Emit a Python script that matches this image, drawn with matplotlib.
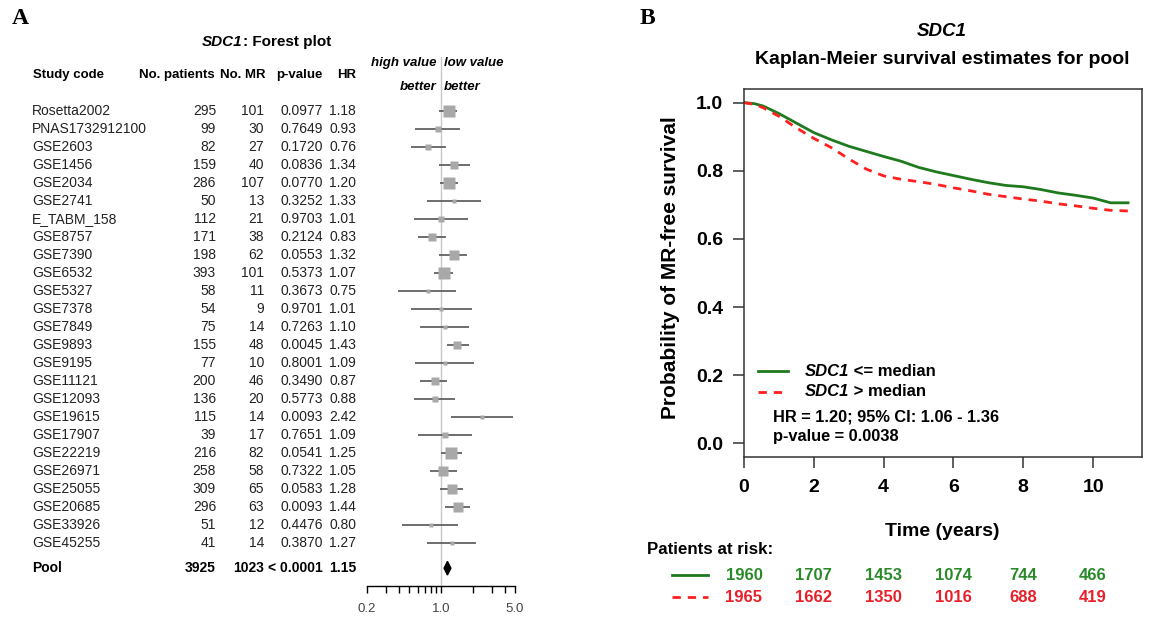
import numpy as np
import matplotlib.pyplot as plt
from matplotlib.lines import Line2D
from matplotlib.ticker import NullFormatter
import matplotlib.transforms as mtransforms

plt.rcParams['font.family'] = ['Liberation Sans', 'DejaVu Sans']

# ---- forest plot data ----
studies = ['Rosetta2002', 'PNAS1732912100', 'GSE2603', 'GSE1456', 'GSE2034', 'GSE2741',
           'E_TABM_158', 'GSE8757', 'GSE7390', 'GSE6532', 'GSE5327', 'GSE7378', 'GSE7849',
           'GSE9893', 'GSE9195', 'GSE11121', 'GSE12093', 'GSE19615', 'GSE17907', 'GSE22219',
           'GSE26971', 'GSE25055', 'GSE20685', 'GSE33926', 'GSE45255']
n_patients = [295, 99, 82, 159, 286, 50, 112, 171, 198, 393, 58, 54, 75, 155, 77, 200, 136,
              115, 39, 216, 258, 309, 296, 51, 41]
n_mr = [101, 30, 27, 40, 107, 13, 21, 38, 62, 101, 11, 9, 14, 48, 10, 46, 20, 14, 17, 82,
        58, 65, 63, 12, 14]
p_values = ['0.0977', '0.7649', '0.1720', '0.0836', '0.0770', '0.3252', '0.9703', '0.2124',
            '0.0553', '0.5373', '0.3673', '0.9701', '0.7263', '0.0045', '0.8001', '0.3490',
            '0.5773', '0.0093', '0.7651', '0.0541', '0.7322', '0.0583', '0.0093', '0.4476',
            '0.3870']
hr = [1.18, 0.93, 0.76, 1.34, 1.20, 1.33, 1.01, 0.83, 1.32, 1.07, 0.75, 1.01, 1.10, 1.43,
      1.09, 0.87, 0.88, 2.42, 1.09, 1.25, 1.05, 1.28, 1.44, 0.80, 1.27]
ci_lo = [0.96, 0.57, 0.52, 0.95, 0.98, 0.74, 0.55, 0.61, 0.96, 0.85, 0.39, 0.52, 0.63, 1.13,
         0.57, 0.64, 0.55, 1.23, 0.61, 0.99, 0.78, 0.98, 1.09, 0.43, 0.73]
ci_hi = [1.43, 1.51, 1.11, 1.88, 1.46, 2.37, 1.81, 1.11, 1.77, 1.31, 1.39, 1.95, 1.84, 1.85,
         2.05, 1.15, 1.36, 4.75, 1.95, 1.57, 1.41, 1.62, 1.88, 1.44, 2.14]
pool_stats = ['Pool', '3925', '1023', '< 0.0001', '1.15']
pool_hr, pool_lo, pool_hi = 1.15, 1.07, 1.24
forest_ticks = [0.2, 1.0, 5.0]
forest_ticklabels = ['0.2', '1.0', '5.0']
forest_minor = [0.3, 0.4, 0.5, 0.6, 0.7, 0.8, 0.9, 2, 3, 4]

# ---- Kaplan-Meier data ----
km_time = [0, 0.3, 0.55, 1.0, 1.5, 2.0, 2.5, 3.0, 3.5, 4.0, 4.5, 5.0, 5.5, 6.0, 6.5, 7.0,
           7.5, 8.0, 8.5, 9.0, 9.5, 10.0, 10.5, 11.0]
km_low = [1.0, 0.997, 0.99, 0.968, 0.94, 0.912, 0.891, 0.872, 0.857, 0.842, 0.828, 0.810,
          0.797, 0.786, 0.775, 0.765, 0.757, 0.753, 0.745, 0.735, 0.728, 0.720, 0.706, 0.706]
km_high = [1.0, 0.995, 0.985, 0.96, 0.926, 0.895, 0.868, 0.835, 0.805, 0.785, 0.775, 0.768,
           0.760, 0.750, 0.741, 0.731, 0.724, 0.717, 0.711, 0.703, 0.697, 0.690, 0.684, 0.682]
risk_times = [0, 2, 4, 6, 8, 10]
risk_low = [1960, 1707, 1453, 1074, 744, 466]
risk_high = [1965, 1662, 1350, 1016, 688, 419]

green = '#1f7a1f'
green_txt = '#2a8a2a'
red = '#ff2020'
red_txt = '#e8202a'

W, H = 1159, 618
fig = plt.figure(figsize=(W / 100, H / 100), dpi=100)


def fx(px):
    return px / W


def fy(py):
    return 1 - py / H


# panel letters
fig.text(fx(12), fy(18), 'A', family='Liberation Serif', weight='bold', size=17, va='center')
fig.text(fx(640), fy(18), 'B', family='Liberation Serif', weight='bold', size=17, va='center')

# ================= forest plot =================
ax_f = fig.add_axes([fx(367), fy(586), fx(515) - fx(367), (586 - 57) / H])
ax_f.set_xscale('log')
ax_f.set_xlim(0.2, 5.0)
ax_f.set_ylim(26.39, -3)
for s in ['top', 'left', 'right']:
    ax_f.spines[s].set_visible(False)
ax_f.spines['bottom'].set_linewidth(1.0)
ax_f.set_yticks([])
ax_f.set_xticks(forest_ticks, labels=forest_ticklabels)
ax_f.set_xticks(forest_minor, minor=True)
ax_f.xaxis.set_minor_formatter(NullFormatter())
ax_f.tick_params(axis='x', which='both', direction='out', length=5, width=1,
                 labelsize=9.5, labelcolor='#444444', pad=7)
ax_f.axvline(1.0, color='#c8c8c8', lw=1, zorder=0)

rows = np.arange(len(studies))
ax_f.hlines(rows, ci_lo, ci_hi, color='#555555', lw=1.2, zorder=2)
for r, h, m in zip(rows, hr, n_mr):
    ax_f.plot(h, r, marker='s', ms=0.9 * np.sqrt(m), color='#a8a8a8', mec='none', zorder=3)

pool_row = 25.4
ax_f.fill([pool_lo, pool_hr, pool_hi, pool_hr],
          [pool_row, pool_row - 0.38, pool_row, pool_row + 0.38], color='black', zorder=3)

tr = mtransforms.blended_transform_factory(fig.transFigure, ax_f.transData)
fs = 10
for r in rows:
    ax_f.text(fx(32), r, studies[r], transform=tr, ha='left', va='center', size=fs, color='#222222')
    ax_f.text(fx(216), r, str(n_patients[r]), transform=tr, ha='right', va='center', size=fs, color='#222222')
    ax_f.text(fx(264), r, str(n_mr[r]), transform=tr, ha='right', va='center', size=fs, color='#222222')
    ax_f.text(fx(323), r, p_values[r], transform=tr, ha='right', va='center', size=fs, color='#222222')
    ax_f.text(fx(356), r, f'{hr[r]:.2f}', transform=tr, ha='right', va='center', size=fs, color='#222222')

pool_x = [32, 216, 264, 323, 356]
for i, (xp, s) in enumerate(zip(pool_x, pool_stats)):
    ax_f.text(fx(xp), pool_row, s, transform=tr, ha='left' if i == 0 else 'right',
              va='center', size=fs, weight='bold')

# header
hy = fy(75)
hs = 9.5
fig.text(fx(33), hy, 'Study code', ha='left', va='center', size=hs, weight='bold')
fig.text(fx(215), hy, 'No. patients', ha='right', va='center', size=hs, weight='bold')
fig.text(fx(265), hy, 'No. MR', ha='right', va='center', size=hs, weight='bold')
fig.text(fx(323), hy, 'p-value', ha='right', va='center', size=hs, weight='bold')
fig.text(fx(356), hy, 'HR', ha='right', va='center', size=hs, weight='bold')
fig.text(fx(437), fy(63), 'high value', ha='right', va='center', size=9.5, weight='bold', style='italic')
fig.text(fx(437), fy(87), 'better', ha='right', va='center', size=9.5, weight='bold', style='italic')
fig.text(fx(444), fy(63), 'low value', ha='left', va='center', size=9.5, weight='bold', style='italic')
fig.text(fx(444), fy(87), 'better', ha='left', va='center', size=9.5, weight='bold', style='italic')

# title
t_a = fig.text(fx(202), fy(42), 'SDC1', ha='left', va='center', size=11, weight='bold', style='italic')
ax_f.annotate(': Forest plot', xy=(1, 0.5), xycoords=t_a, ha='left', va='center',
              size=11, weight='bold', annotation_clip=False)

# ================= Kaplan-Meier =================
ax_k = fig.add_axes([fx(744), fy(457), fx(1142) - fx(744), (457 - 89) / H])
ax_k.plot(km_time, km_low, color=green, lw=2.0)
ax_k.plot(km_time, km_high, color=red, lw=2.0, dashes=(3, 2.5))
ax_k.set_xlim(0, 11.4)
ax_k.set_ylim(-0.04, 1.04)
ax_k.set_xticks(risk_times, labels=[str(t) for t in risk_times])
ax_k.set_yticks([0, 0.2, 0.4, 0.6, 0.8, 1.0], labels=['0.0', '0.2', '0.4', '0.6', '0.8', '1.0'])
ax_k.tick_params(axis='both', direction='out', length=8, width=1.1, labelsize=14, color='#333333')
ax_k.tick_params(axis='x', pad=8)
ax_k.tick_params(axis='y', pad=7)
for lab in ax_k.get_xticklabels() + ax_k.get_yticklabels():
    lab.set_fontweight('bold')
for s in ax_k.spines.values():
    s.set_linewidth(1.1)
    s.set_color('#333333')

fig.text(fx(670), fy(268), 'Probability of MR-free survival', rotation=90, ha='center',
         va='center', size=15, weight='bold')
fig.text(fx(942), fy(532), 'Time (years)', ha='center', va='center', size=14, weight='bold')
fig.text(fx(942), fy(31), 'SDC1', ha='center', va='center', size=13.5, weight='bold', style='italic')
fig.text(fx(942), fy(60), 'Kaplan-Meier survival estimates for pool', ha='center', va='center',
         size=14, weight='bold')

# legend inside plot
fig.add_artist(Line2D([fx(758), fx(788)], [fy(371), fy(371)], color=green, lw=2.0))
fig.add_artist(Line2D([fx(758), fx(788)], [fy(392), fy(392)], color=red, lw=2.0, dashes=(3, 2.5)))
for yy, rest in [(371, ' <= median'), (392, ' > median')]:
    t = fig.text(fx(805), fy(yy), 'SDC1', ha='left', va='center', size=12, weight='bold', style='italic')
    ax_k.annotate(rest, xy=(1, 0.5), xycoords=t, ha='left', va='center', size=12,
                  weight='bold', annotation_clip=False)
fig.text(fx(773), fy(417), 'HR = 1.20; 95% CI: 1.06 - 1.36', ha='left', va='center', size=11.8, weight='bold')
fig.text(fx(773), fy(437), 'p-value = 0.0038', ha='left', va='center', size=11.8, weight='bold')

# patients at risk
fig.text(fx(647), fy(550), 'Patients at risk:', ha='left', va='center', size=12.2, weight='bold')
fig.add_artist(Line2D([fx(672), fx(708)], [fy(575), fy(575)], color=green, lw=2.0))
fig.add_artist(Line2D([fx(672), fx(708)], [fy(597), fy(597)], color=red, lw=2.0, dashes=(3, 2.5)))
tr_k = mtransforms.blended_transform_factory(ax_k.transData, fig.transFigure)
for t, a, b in zip(risk_times, risk_low, risk_high):
    ax_k.text(t, fy(575), str(a), transform=tr_k, ha='center', va='center', size=12,
              weight='bold', color=green_txt, clip_on=False)
    ax_k.text(t, fy(597), str(b), transform=tr_k, ha='center', va='center', size=12,
              weight='bold', color=red_txt, clip_on=False)

fig.savefig('out.png', dpi=100)
